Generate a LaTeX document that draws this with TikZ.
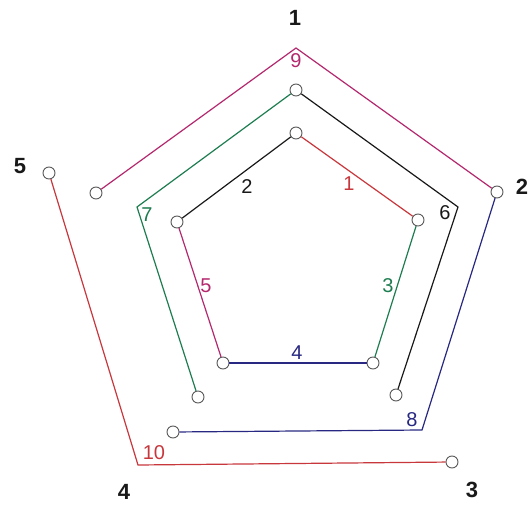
\documentclass[tikz,border=0pt]{standalone}
\usepackage{fontspec}
\setmainfont{Liberation Sans}
\definecolor{cred}{RGB}{200,55,60}
\definecolor{cmag}{RGB}{180,40,110}
\definecolor{cgreen}{RGB}{30,125,80}
\definecolor{cblue}{RGB}{40,40,130}
\definecolor{cblack}{RGB}{25,25,25}
\definecolor{cring}{RGB}{90,90,90}
\begin{document}
\begin{tikzpicture}[x=1pt,y=-1pt,
  pt/.style={circle,draw=cring,fill=white,line width=0.9pt,minimum size=12pt,inner sep=0pt},
  edge/.style={line width=1.2pt},
  lab/.style={font=\fontsize{20}{20}\selectfont,inner sep=0pt},
  big/.style={font=\fontsize{22}{22}\selectfont\bfseries,inner sep=0pt,text=cblack}]
\useasboundingbox (0,0) rectangle (528,506);
\fill[white] (0,0) rectangle (528,506);
% points
\node[pt] (r1) at (49,173) {};
\coordinate (r2) at (138,465);
\node[pt] (r3) at (452,462) {};
\node[pt] (m1) at (96,193) {};
\coordinate (m2) at (296,48);
\node[pt] (m3) at (497,192) {};
\coordinate (b2) at (422,430);
\node[pt] (b3) at (173,432) {};
\node[pt] (g1) at (198,397) {};
\coordinate (g2) at (137,207);
\node[pt] (g3) at (296,90) {};
\coordinate (k2) at (458,207);
\node[pt] (k3) at (396,395) {};
\node[pt] (i1) at (296,133) {};
\node[pt] (i2) at (418,220) {};
\node[pt] (i3) at (373,363) {};
\node[pt] (i4) at (223,363) {};
\node[pt] (i5) at (177,222) {};
% connectors
\draw[edge,cred] (r1) -- (r2) -- (r3);
\draw[edge,cmag] (m1) -- (m2) -- (m3);
\draw[edge,cblue] (m3) -- (b2) -- (b3);
\draw[edge,cgreen] (g1) -- (g2) -- (g3);
\draw[edge,cblack] (g3) -- (k2) -- (k3);
\draw[edge,cred] (i1) -- (i2);
\draw[edge,cgreen] (i2) -- (i3);
\draw[edge,cblue] (i3) -- (i4);
\draw[edge,cmag] (i4) -- (i5);
\draw[edge,cblack] (i5) -- (i1);
% edge labels
\node[lab,text=cred] (l1) at (349,184) {1};
\node[lab,text=cblack] (l2) at (247,187) {2};
\node[lab,text=cgreen] (l3) at (388,286) {3};
\node[lab,text=cblue] (l4) at (297,353) {4};
\node[lab,text=cmag] (l5) at (206,286) {5};
\node[lab,text=cblack] (l6) at (445,213) {6};
\node[lab,text=cgreen] (l7) at (147,215) {7};
\node[lab,text=cblue] (l8) at (412,420) {8};
\node[lab,text=cmag] (l9) at (296,61) {9};
\node[lab,text=cred] (l10) at (154,453) {10};
% vertex labels
\node[big] (v1) at (295,18) {1};
\node[big] (v2) at (522,187) {2};
\node[big] (v3) at (472,490) {3};
\node[big] (v4) at (124,492) {4};
\node[big] (v5) at (20,166) {5};
\end{tikzpicture}
\end{document}
